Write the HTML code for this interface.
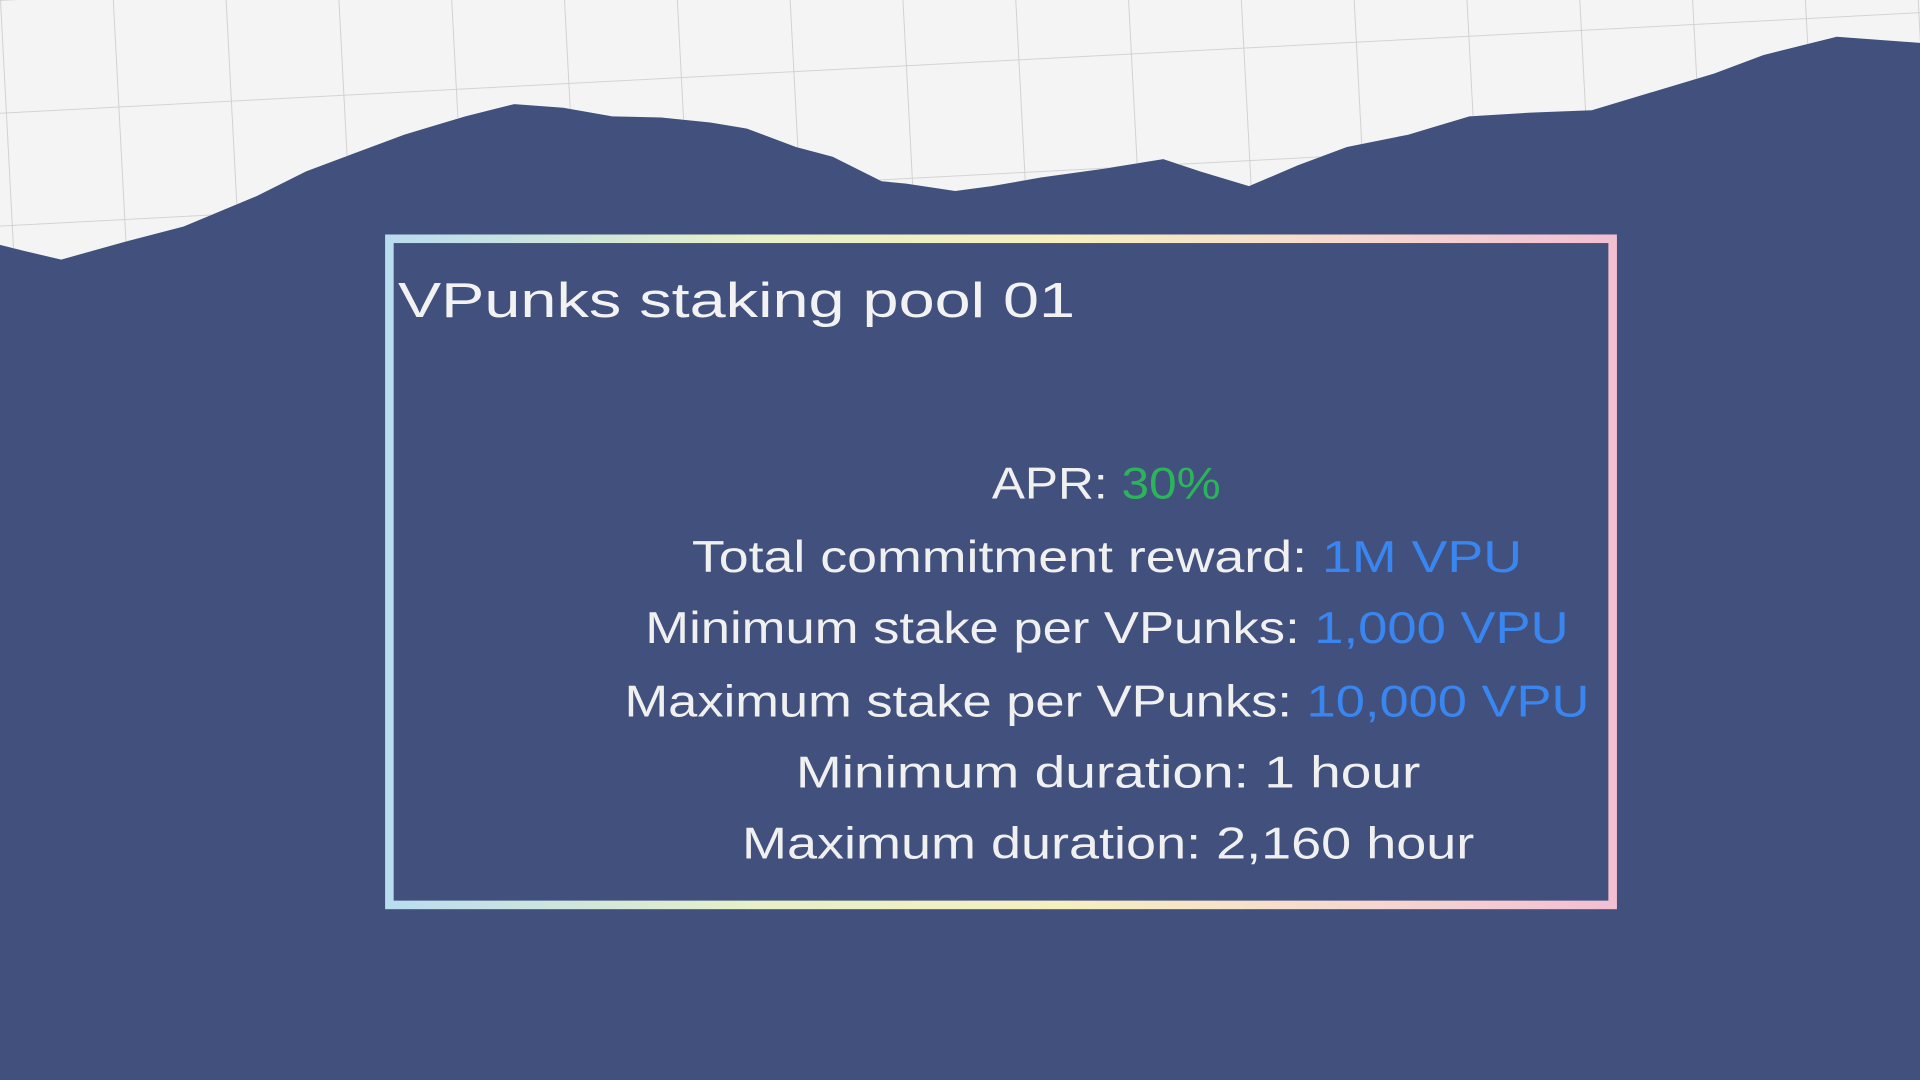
<!DOCTYPE html>
<html>
<head>
<meta charset="utf-8">
<style>
html,body{margin:0;padding:0;width:1920px;height:1080px;overflow:hidden;background:#41507c;}
svg{display:block;}
text{font-family:"Liberation Sans","DejaVu Sans",sans-serif;}
</style>
</head>
<body>
<svg width="1920" height="1080" viewBox="0 0 1568 882" preserveAspectRatio="none" xmlns="http://www.w3.org/2000/svg">
  <defs>
    <pattern id="grid" width="92" height="92" patternUnits="userSpaceOnUse" patternTransform="rotate(-3)">
      <path d="M92 0 L0 0 0 92" fill="none" stroke="#cfcfcf" stroke-width="1.5"/>
    </pattern>
    <linearGradient id="frame" x1="0" y1="0" x2="1" y2="0">
      <stop offset="0" stop-color="#b9dcef"/>
      <stop offset="0.3" stop-color="#e7f0c8"/>
      <stop offset="0.55" stop-color="#f6efc0"/>
      <stop offset="0.8" stop-color="#f6d7d0"/>
      <stop offset="1" stop-color="#f2bfd2"/>
    </linearGradient>
  </defs>
  <rect x="0" y="0" width="1568" height="882" fill="#41507c"/>
  <g>
    <path d="M0 0 H1568 V35 L1500 30 L1440 45 L1400 60 L1350 75 L1300 90 L1250 92 L1200 95 L1150 110 L1100 120 L1060 135 L1020 152 L980 140 L950 130 L900 138 L850 145 L810 152 L780 156 L740 150 L720 148 L680 128 L650 120 L610 105 L580 100 L540 96 L500 95 L460 88 L420 85 L380 95 L330 110 L290 125 L250 140 L210 160 L150 185 L100 198 L50 212 L20 205 L0 200 Z" fill="#f4f4f4"/>
    <path d="M0 0 H1568 V35 L1500 30 L1440 45 L1400 60 L1350 75 L1300 90 L1250 92 L1200 95 L1150 110 L1100 120 L1060 135 L1020 152 L980 140 L950 130 L900 138 L850 145 L810 152 L780 156 L740 150 L720 148 L680 128 L650 120 L610 105 L580 100 L540 96 L500 95 L460 88 L420 85 L380 95 L330 110 L290 125 L250 140 L210 160 L150 185 L100 198 L50 212 L20 205 L0 200 Z" fill="url(#grid)"/>
  </g>
  <rect x="318" y="195" width="999" height="544" fill="none" stroke="url(#frame)" stroke-width="7"/>
  <text x="325" y="259" font-size="40" fill="#f2f2f2" textLength="553" lengthAdjust="spacingAndGlyphs">VPunks staking pool 01</text>
  <g font-size="36" fill="#f0f0f0" text-anchor="start">
    <text x="810" y="407" textLength="187" lengthAdjust="spacingAndGlyphs">APR: <tspan fill="#2bb55a">30%</tspan></text>
    <text x="565" y="467" textLength="678" lengthAdjust="spacingAndGlyphs">Total commitment reward: <tspan fill="#3a86f0">1M VPU</tspan></text>
    <text x="527" y="525" textLength="754" lengthAdjust="spacingAndGlyphs">Minimum stake per VPunks: <tspan fill="#3a86f0">1,000 VPU</tspan></text>
    <text x="510" y="585" textLength="788" lengthAdjust="spacingAndGlyphs">Maximum stake per VPunks: <tspan fill="#3a86f0">10,000 VPU</tspan></text>
    <text x="650" y="643" textLength="510" lengthAdjust="spacingAndGlyphs">Minimum duration: 1 hour</text>
    <text x="606" y="701" textLength="598" lengthAdjust="spacingAndGlyphs">Maximum duration: 2,160 hour</text>
  </g>
</svg>
</body>
</html>
